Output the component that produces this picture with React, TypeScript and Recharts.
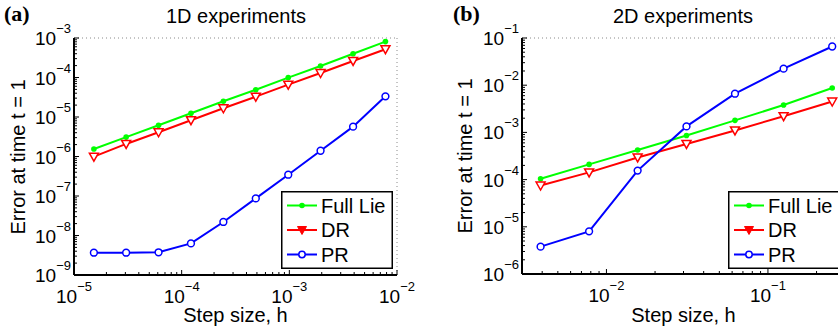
import React from "react"
import { LineChart, Line, XAxis, YAxis, CartesianGrid, Legend } from "recharts"

// step sizes and errors, panel (a) 1D
const h1 = [1.53e-5, 3.05e-5, 6.1e-5, 1.22e-4, 2.44e-4, 4.88e-4, 9.77e-4, 1.95e-3, 3.91e-3, 7.81e-3]
const fullLie1 = [1.55e-6, 3.1e-6, 6.2e-6, 1.24e-5, 2.5e-5, 4.9e-5, 9.9e-5, 1.95e-4, 4.0e-4, 8.1e-4]
const dr1 = [9.9e-7, 2.08e-6, 4.1e-6, 8.3e-6, 1.66e-5, 3.27e-5, 6.6e-5, 1.3e-4, 2.62e-4, 5.2e-4]
const pr1 = [3.67e-9, 3.67e-9, 3.76e-9, 6.3e-9, 2.2e-8, 8.7e-8, 3.46e-7, 1.4e-6, 5.7e-6, 3.34e-5]

// panel (b) 2D
const h2 = [3.91e-3, 7.81e-3, 1.56e-2, 3.13e-2, 6.25e-2, 0.125, 0.25]
const fullLie2 = [1.04e-4, 2.1e-4, 4.24e-4, 8.6e-4, 1.8e-3, 3.8e-3, 8.7e-3]
const dr2 = [7.5e-5, 1.42e-4, 2.95e-4, 5.7e-4, 1.1e-3, 2.2e-3, 4.5e-3]
const pr2 = [3.8e-6, 8.0e-6, 1.55e-4, 1.34e-3, 6.6e-3, 2.24e-2, 6.6e-2]

const xMajor1 = [1e-5, 1e-4, 1e-3, 1e-2]
const yMajor1 = [1e-9, 1e-8, 1e-7, 1e-6, 1e-5, 1e-4, 1e-3]
const xMajor2 = [1e-2, 1e-1]
const yMajor2 = [1e-6, 1e-5, 1e-4, 1e-3, 1e-2, 1e-1]

const seriesOrder = ["full", "dr", "pr"]
const seriesNames: any = { full: "Full Lie", dr: "DR", pr: "PR" }
const colors: any = { full: "#00ff00", dr: "#ff0000", pr: "#0000ff" }

const FONT = "'Liberation Sans', Arial, Helvetica, sans-serif"

// log minor ticks 1..9 x 10^e inside the domain
function logTicks(lo: number, hi: number) {
  const out: number[] = []
  for (let e = Math.floor(Math.log10(lo)); e <= Math.ceil(Math.log10(hi)); e++) {
    for (let k = 1; k <= 9; k++) {
      const v = k * Math.pow(10, e)
      if (v >= lo * 0.9999 && v <= hi * 1.0001) out.push(v)
    }
  }
  return out
}

function isMajor(v: number) {
  const e = Math.log10(v)
  return Math.abs(e - Math.round(e)) < 1e-6
}

function XTick(props: any) {
  const { x, y, payload } = props
  const major = isMajor(payload.value)
  return (
    <g>
      <line x1={x} x2={x} y1={y} y2={y - (major ? 5 : 3)} stroke="#000" strokeWidth={1} />
      {major && (
        <text x={x} y={y + 28} textAnchor="middle" fontFamily={FONT} fontSize={19} fill="#000">
          10<tspan dy={-12} fontSize={13}>−{Math.abs(Math.round(Math.log10(payload.value)))}</tspan>
        </text>
      )}
    </g>
  )
}

function YTick(props: any) {
  const { x, y, payload } = props
  const major = isMajor(payload.value)
  return (
    <g>
      <line x1={x} x2={x + (major ? 5 : 3)} y1={y} y2={y} stroke="#000" strokeWidth={1} />
      {major && (
        <text x={x - 3} y={y + 7} textAnchor="end" fontFamily={FONT} fontSize={19} fill="#000">
          10<tspan dy={-12} fontSize={13}>−{Math.abs(Math.round(Math.log10(payload.value)))}</tspan>
        </text>
      )}
    </g>
  )
}

function GreenDot(props: any) {
  const { cx, cy, index } = props
  return <circle key={index} cx={cx} cy={cy} r={2.8} fill={colors.full} />
}

function RedTri(props: any) {
  const { cx, cy, index } = props
  return (
    <path
      key={index}
      d={`M${cx - 4.5},${cy - 3.5}L${cx + 4.5},${cy - 3.5}L${cx},${cy + 4.5}Z`}
      fill="#fff"
      stroke={colors.dr}
      strokeWidth={1.5}
    />
  )
}

function BlueCircle(props: any) {
  const { cx, cy, index } = props
  return <circle key={index} cx={cx} cy={cy} r={3.4} fill="#fff" stroke={colors.pr} strokeWidth={1.5} />
}

function LegendBox(props: any) {
  const payload: any[] = props.payload || []
  const rows = [...payload].sort((a, b) => seriesOrder.indexOf(a.dataKey) - seriesOrder.indexOf(b.dataKey))
  return (
    <svg width={112} height={78} style={{ display: "block" }}>
      <rect x={0.75} y={0.75} width={110.5} height={76.5} fill="#fff" stroke="#000" strokeWidth={1.5} />
      {rows.map((p: any, i: number) => {
        const key = p.dataKey
        const cy = 14.5 + i * 24.5
        const c = colors[key]
        return (
          <g key={key}>
            <line x1={6} x2={36} y1={cy} y2={cy} stroke={c} strokeWidth={2} />
            {key === "full" && <circle cx={21} cy={cy} r={2.8} fill={c} />}
            {key === "dr" && <path d={`M16.5,${cy - 3.5}L25.5,${cy - 3.5}L21,${cy + 4.5}Z`} fill={c} stroke={c} strokeWidth={1} />}
            {key === "pr" && <circle cx={21} cy={cy} r={3.2} fill="#fff" stroke={c} strokeWidth={1.5} />}
            <text x={40} y={cy + 7} fontFamily={FONT} fontSize={20} fill="#000">{seriesNames[key]}</text>
          </g>
        )
      })}
    </svg>
  )
}

function Panel(props: any) {
  const { data, xDomain, yDomain, xMajor, yMajor, width, yAxisWidth, marginRight, xAxisHeight, legendLeft } = props
  const xAll = logTicks(xDomain[0], xDomain[1])
  const yAll = logTicks(yDomain[0], yDomain[1])
  return (
    <LineChart width={width} height={332} data={data} margin={{ top: 38, right: marginRight, bottom: 0, left: 0 }}>
      <CartesianGrid xAxisId="g" yAxisId="g" stroke="#8a8a8a" strokeDasharray="1 3" />
      <XAxis
        xAxisId="m"
        dataKey="h"
        type="number"
        scale="log"
        domain={xDomain}
        ticks={xAll}
        interval={0}
        allowDataOverflow
        height={xAxisHeight}
        tickSize={0}
        tickMargin={0}
        tickLine={false}
        axisLine={{ stroke: "#000", strokeWidth: 2 }}
        tick={(p: any) => <XTick {...p} />}
      />
      <YAxis
        yAxisId="m"
        type="number"
        scale="log"
        domain={yDomain}
        ticks={yAll}
        interval={0}
        allowDataOverflow
        width={yAxisWidth}
        tickSize={0}
        tickMargin={0}
        tickLine={false}
        axisLine={{ stroke: "#000", strokeWidth: 2 }}
        tick={(p: any) => <YTick {...p} />}
      />
      {/* zero-size axes only used to place the decade grid */}
      <XAxis xAxisId="g" dataKey="h" type="number" scale="log" domain={xDomain} ticks={xMajor} allowDataOverflow height={0} tick={false} axisLine={false} tickLine={false} />
      <YAxis yAxisId="g" type="number" scale="log" domain={yDomain} ticks={yMajor} allowDataOverflow width={0} tick={false} axisLine={false} tickLine={false} />
      <Legend
        layout="vertical"
        align="center"
        verticalAlign="middle"
        content={(p: any) => <LegendBox {...p} />}
        wrapperStyle={{ left: legendLeft, top: 191, width: 112, height: 78 }}
      />
      <Line xAxisId="m" yAxisId="m" type="linear" dataKey="full" name={seriesNames.full} stroke={colors.full} strokeWidth={2} dot={(p: any) => <GreenDot {...p} />} isAnimationActive={false} />
      <Line xAxisId="m" yAxisId="m" type="linear" dataKey="dr" name={seriesNames.dr} stroke={colors.dr} strokeWidth={2} dot={(p: any) => <RedTri {...p} />} isAnimationActive={false} />
      <Line xAxisId="m" yAxisId="m" type="linear" dataKey="pr" name={seriesNames.pr} stroke={colors.pr} strokeWidth={2} dot={(p: any) => <BlueCircle {...p} />} isAnimationActive={false} />
    </LineChart>
  )
}

export default function App() {
  const data1 = h1.map((h, i) => ({ h, full: fullLie1[i], dr: dr1[i], pr: pr1[i] }))
  const data2 = h2.map((h, i) => ({ h, full: fullLie2[i], dr: dr2[i], pr: pr2[i] }))
  const txt = { fontFamily: FONT, fontSize: 20, fill: "#000" }
  const lbl = { fontFamily: "'Liberation Serif', 'Times New Roman', serif", fontSize: 22, fontWeight: 700, fill: "#000" }
  return (
    <div style={{ position: "absolute", left: 0, top: 0, width: 838, height: 332, overflow: "hidden", background: "#fff" }}>
      <div style={{ position: "absolute", left: 0, top: 0 }}>
        <Panel data={data1} xDomain={[1e-5, 1e-2]} yDomain={[1e-9, 1e-3]} xMajor={xMajor1} yMajor={yMajor1}
          width={419} yAxisWidth={74} marginRight={22} xAxisHeight={57} legendLeft={281} />
      </div>
      <div style={{ position: "absolute", left: 420, top: 0 }}>
        <Panel data={data2} xDomain={[3e-3, 0.3]} yDomain={[1e-6, 1e-1]} xMajor={xMajor2} yMajor={yMajor2}
          width={445} yAxisWidth={102} marginRight={20} xAxisHeight={58} legendLeft={308} />
      </div>
      <svg width={838} height={332} style={{ position: "absolute", left: 0, top: 0, pointerEvents: "none" }}>
        <text x={4} y={21} {...lbl}>(a)</text>
        <text x={236} y={23} textAnchor="middle" {...txt}>1D experiments</text>
        <text x={235.5} y={322} textAnchor="middle" {...txt}>Step size, h</text>
        <text x={24.5} y={157} textAnchor="middle" transform="rotate(-90 24.5 157)" {...txt}>Error at time t = 1</text>
        <text x={453} y={21} {...lbl}>(b)</text>
        <text x={683} y={23} textAnchor="middle" {...txt}>2D experiments</text>
        <text x={683.5} y={322} textAnchor="middle" {...txt}>Step size, h</text>
        <text x={471.5} y={156} textAnchor="middle" transform="rotate(-90 471.5 156)" {...txt}>Error at time t = 1</text>
      </svg>
    </div>
  )
}
